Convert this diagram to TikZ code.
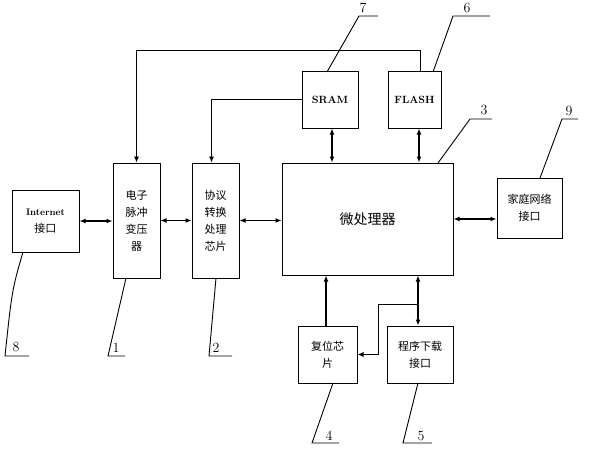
\documentclass[tikz,border=0pt]{standalone}
\usepackage{fontspec}
\newfontfamily\cjk{Noto Sans CJK SC}
\usetikzlibrary{arrows.meta}
\begin{document}
\begin{tikzpicture}[x=1pt,y=-1pt,
	box/.style={draw,line width=1pt,align=center,inner sep=0,
	font=\cjk\fontsize{11}{17}\selectfont},
	num/.style={font=\fontsize{14}{14}\selectfont,inner sep=0},
	leader/.style={line width=0.9pt},
	link/.style={line width=1.2pt,{Latex[length=6pt,width=5pt]}-{Latex[length=6pt,width=5pt]}},
	feed/.style={line width=0.9pt,-{Latex[length=6pt,width=5pt]}}]
\useasboundingbox (0,0) rectangle (592,450);
% blocks
\node[box,minimum width=67pt,minimum height=62pt] (inet) at (45.5,221)
	{\textbf{\rmfamily\fontsize{9.5}{9.5}\selectfont Internet}\\接口};
\node[box,minimum width=47pt,minimum height=115pt] (pulse) at (136.5,220.5)
	{电子\\脉冲\\变压\\器};
\node[box,minimum width=47pt,minimum height=115pt] (proto) at (215.5,220.5)
	{协议\\转换\\处理\\芯片};
\node[box,minimum width=171pt,minimum height=112pt,
	font=\cjk\fontsize{14}{14}\selectfont] (cpu) at (367.5,219) {微处理器};
\node[box,minimum width=56pt,minimum height=57pt] (sram) at (330,99.5)
	{\textbf{\rmfamily\fontsize{10.5}{10.5}\selectfont SRAM}};
\node[box,minimum width=53pt,minimum height=57pt] (flash) at (414.5,99.5)
	{\textbf{\rmfamily\fontsize{10.5}{10.5}\selectfont FLASH}};
\node[box,minimum width=65pt,minimum height=60pt] (home) at (529.5,208)
	{家庭网络\\接口};
\node[box,minimum width=59pt,minimum height=57pt] (reset) at (327.5,354.5)
	{复位芯\\片};
\node[box,minimum width=66pt,minimum height=57pt] (prog) at (420,354.5)
	{程序下载\\接口};
% links
\draw[link] (inet.east) -- (inet.east -| pulse.west);
\draw[link] (pulse.east) -- (proto.west);
\draw[link] (proto.east) -- (proto.east -| cpu.west);
\draw[link] (cpu.east) -- (cpu.east -| home.west);
\draw[link] ([xshift=2pt]sram.south) -- ([xshift=2pt]sram.south |- cpu.north);
\draw[link] ([xshift=4.5pt]flash.south) -- ([xshift=4.5pt]flash.south |- cpu.north);
\draw[link] ([xshift=-2pt]prog.north) -- ([xshift=-2pt]prog.north |- cpu.south);
\draw[feed,line width=1.2pt] ([xshift=-1.5pt]reset.north) -- ([xshift=-1.5pt]reset.north |- cpu.south);
\coordinate (bus) at (0,50);
\coordinate (br) at (418,304);
\draw[feed] ([xshift=5.5pt]flash.north) |- (bus -| pulse.north) -- (pulse.north);
\draw[feed] (sram.west) -| ([xshift=-4pt]proto.north);
\draw[feed] (br) -- ++(-40,0) |- (reset.east);
% part numbers
\node[num] (n7) at (363,8) {7};
\node[num] (n6) at (467,8) {6};
\node[num] (n3) at (484,110) {3};
\node[num] (n9) at (569,111) {9};
\node[num] (n8) at (16,347) {8};
\node[num] (n1) at (116,348) {1};
\node[num] (n2) at (216,348) {2};
\node[num] (n4) at (329,436) {4};
\node[num] (n5) at (421,436) {5};
\draw[leader] (327,72) -- (359,16) -- (378,16);
\draw[leader] (433,72) -- (453,16) -- (490,16);
\draw[leader] (438,163) -- (470,119) -- (492,119);
\draw[leader] (540,178) -- (562,119) -- (578,119);
\draw[leader] (23,252) .. controls (12,290) .. (5,356) -- (29,356);
\draw[leader] (126,278) -- (108,356) -- (125,356);
\draw[leader] (216,278) -- (209,356) -- (232,356);
\draw[leader] (333,383) -- (312,443) -- (339,443);
\draw[leader] (418,383) -- (403,443) -- (432,443);
\end{tikzpicture}
\end{document}
